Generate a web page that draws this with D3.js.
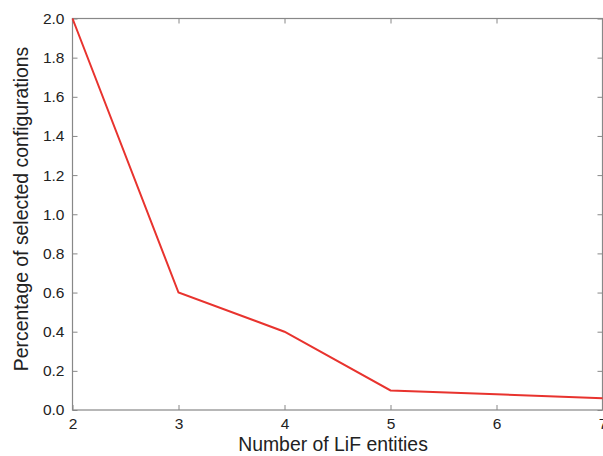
<!DOCTYPE html>
<html>
<head>
<meta charset="utf-8">
<script src="https://cdn.jsdelivr.net/npm/d3@7"></script>
<style>
body { margin: 0; background: #fff; }
svg { display: block; font-family: "Liberation Sans", Arial, sans-serif; }
.tick text { font-size: 15.5px; fill: #222; }
.tick line { stroke: #888; }
.domain { stroke: none; }
</style>
</head>
<body>
<svg width="603" height="456"></svg>
<script>
var entities = [2, 3, 4, 5, 6, 7];
var percentages = [2.0, 0.6, 0.4, 0.1, 0.08, 0.06];
var yTicks = [0.0, 0.2, 0.4, 0.6, 0.8, 1.0, 1.2, 1.4, 1.6, 1.8, 2.0];

var svg = d3.select("svg");
var marginLeft = 72.5, plotRight = 602.5, marginTop = 18.5, plotBottom = 410;
var width = plotRight - marginLeft;
var height = plotBottom - marginTop;

var xScale = d3.scaleLinear().domain([2, 7]).range([0, width]);
var yScale = d3.scaleLinear().domain([0, 2]).range([height, 0]);

var g = svg.append("g").attr("transform", "translate(" + marginLeft + "," + marginTop + ")");

// bottom axis, ticks pointing inward
g.append("g")
  .attr("transform", "translate(0," + height + ")")
  .call(d3.axisBottom(xScale).tickValues(entities).tickSizeInner(-5).tickSizeOuter(0).tickPadding(8).tickFormat(d3.format("d")));

// top ticks only
g.append("g")
  .call(d3.axisTop(xScale).tickValues(entities).tickSizeInner(-5).tickSizeOuter(0).tickFormat(""));

// left axis
g.append("g")
  .call(d3.axisLeft(yScale).tickValues(yTicks).tickSizeInner(-5).tickSizeOuter(0).tickPadding(8).tickFormat(d3.format(".1f")));

// right ticks only
g.append("g")
  .attr("transform", "translate(" + width + ",0)")
  .call(d3.axisRight(yScale).tickValues(yTicks).tickSizeInner(-5).tickSizeOuter(0).tickFormat(""));

// frame
g.append("rect")
  .attr("width", width)
  .attr("height", height)
  .attr("fill", "none")
  .attr("stroke", "#888")
  .attr("stroke-width", 1.2);

var line = d3.line()
  .x(function(d, i) { return xScale(entities[i]); })
  .y(function(d) { return yScale(d); });

g.append("path")
  .datum(percentages)
  .attr("fill", "none")
  .attr("stroke", "#e8332e")
  .attr("stroke-width", 2)
  .attr("d", line);

svg.append("text")
  .attr("x", 333)
  .attr("y", 451)
  .attr("text-anchor", "middle")
  .style("font-size", "19.4px")
  .style("fill", "#222")
  .text("Number of LiF entities");

svg.append("text")
  .attr("transform", "translate(28,209) rotate(-90)")
  .attr("text-anchor", "middle")
  .style("font-size", "19.4px")
  .style("fill", "#222")
  .text("Percentage of selected configurations");
</script>
</body>
</html>
